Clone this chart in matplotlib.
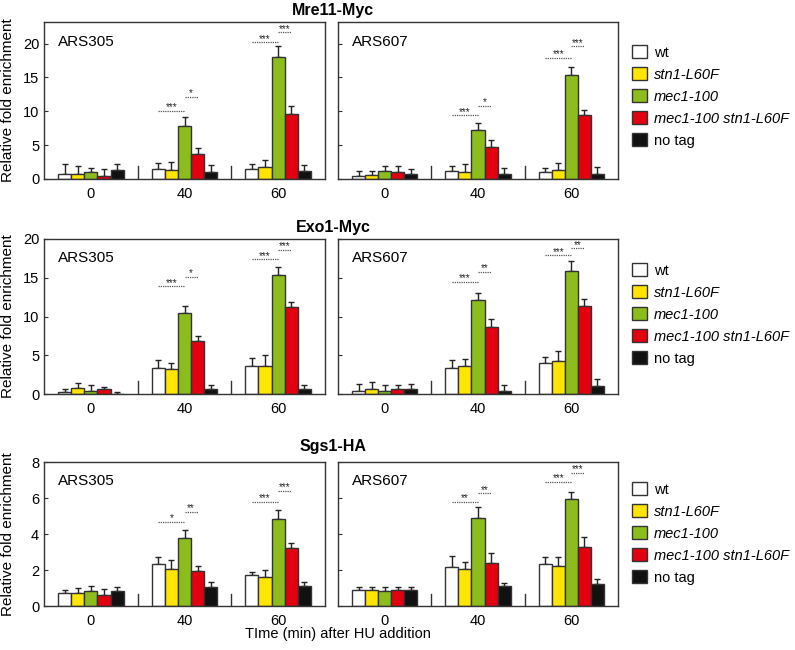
import numpy as np
import matplotlib.pyplot as plt
from matplotlib.patches import Patch

plt.rcParams['font.family'] = ['Liberation Sans', 'DejaVu Sans']

# Time points (min after HU) and strains
times = ['0', '40', '60']
strains = ['wt', 'stn1-L60F', 'mec1-100', 'mec1-100 stn1-L60F', 'no tag']
colors = ['white', '#ffe500', '#8cbd1c', '#e3000f', '#111111']

# Mean values: one row per strain, columns = 0, 40, 60 min
mre11_305 = [[0.7, 1.5, 1.5], [0.7, 1.4, 1.7], [1.1, 7.9, 18.1], [0.5, 3.7, 9.6], [1.3, 1.1, 1.2]]
mre11_305_err = [[1.5, 0.85, 0.7], [1.2, 1.1, 1.1], [0.55, 1.2, 1.6], [1.0, 0.95, 1.2], [0.85, 0.9, 0.8]]
mre11_607 = [[0.5, 1.2, 1.0], [0.6, 1.0, 1.4], [1.2, 7.2, 15.3], [1.0, 4.75, 9.4], [0.75, 0.75, 0.8]]
mre11_607_err = [[0.75, 0.75, 0.65], [0.65, 1.2, 1.0], [0.65, 1.1, 1.2], [0.95, 0.95, 0.8], [0.7, 0.9, 0.9]]

exo1_305 = [[0.3, 3.4, 3.55], [0.8, 3.2, 3.6], [0.45, 10.4, 15.3], [0.65, 6.9, 11.25], [0.05, 0.7, 0.7]]
exo1_305_err = [[0.3, 1.0, 1.15], [0.6, 0.85, 1.4], [0.7, 1.0, 1.15], [0.3, 0.6, 0.6], [0.25, 0.5, 0.5]]
exo1_607 = [[0.45, 3.4, 4.0], [0.7, 3.6, 4.3], [0.45, 12.1, 15.9], [0.6, 8.6, 11.3], [0.65, 0.4, 1.0]]
exo1_607_err = [[0.8, 0.95, 0.8], [0.8, 0.9, 1.25], [0.65, 0.95, 1.3], [0.6, 1.1, 1.0], [0.6, 0.8, 0.95]]

sgs1_305 = [[0.74, 2.32, 1.73], [0.74, 2.05, 1.59], [0.83, 3.76, 4.82], [0.63, 1.94, 3.25], [0.83, 1.05, 1.13]]
sgs1_305_err = [[0.17, 0.39, 0.15], [0.26, 0.48, 0.41], [0.28, 0.46, 0.5], [0.33, 0.3, 0.24], [0.22, 0.26, 0.2]]
sgs1_607 = [[0.88, 2.19, 2.32], [0.88, 2.04, 2.23], [0.85, 4.88, 5.97], [0.87, 2.39, 3.3], [0.88, 1.12, 1.22]]
sgs1_607_err = [[0.15, 0.57, 0.42], [0.2, 0.39, 0.48], [0.2, 0.6, 0.39], [0.18, 0.53, 0.55], [0.15, 0.17, 0.26]]

# Significance marks: (time index, strain a, strain b, height, label)
mre11_305_sig = [(1, 0, 2, 10.1, '***'), (1, 2, 3, 12.1, '*'), (2, 0, 2, 20.2, '***'), (2, 2, 3, 21.7, '***')]
mre11_607_sig = [(1, 0, 2, 9.4, '***'), (1, 2, 3, 10.8, '*'), (2, 0, 2, 17.9, '***'), (2, 2, 3, 19.6, '***')]
exo1_305_sig = [(1, 0, 2, 13.9, '***'), (1, 2, 3, 15.1, '*'), (2, 0, 2, 17.4, '***'), (2, 2, 3, 18.6, '***')]
exo1_607_sig = [(1, 0, 2, 14.5, '***'), (1, 2, 3, 15.8, '**'), (2, 0, 2, 17.9, '***'), (2, 2, 3, 18.8, '**')]
sgs1_305_sig = [(1, 0, 2, 4.67, '*'), (1, 2, 3, 5.22, '**'), (2, 0, 2, 5.79, '***'), (2, 2, 3, 6.4, '***')]
sgs1_607_sig = [(1, 0, 2, 5.78, '**'), (1, 2, 3, 6.26, '**'), (2, 0, 2, 6.89, '***'), (2, 2, 3, 7.39, '***')]

rows = [
    ('Mre11-Myc', 23.2, [0, 5, 10, 15, 20],
     [('ARS305', mre11_305, mre11_305_err, mre11_305_sig), ('ARS607', mre11_607, mre11_607_err, mre11_607_sig)]),
    ('Exo1-Myc', 20, [0, 5, 10, 15, 20],
     [('ARS305', exo1_305, exo1_305_err, exo1_305_sig), ('ARS607', exo1_607, exo1_607_err, exo1_607_sig)]),
    ('Sgs1-HA', 8, [0, 2, 4, 6, 8],
     [('ARS305', sgs1_305, sgs1_305_err, sgs1_305_sig), ('ARS607', sgs1_607, sgs1_607_err, sgs1_607_sig)]),
]

W, H = 795, 650
fig = plt.figure(figsize=(W / 100, H / 100), dpi=100)

col_px = [(44, 325), (338, 618)]
row_px = [(22, 179), (239, 394), (462, 606)]
legend_top = [45, 263, 482]
title_y = [10, 228, 447]

bw = 0.14
edge = '#333333'


def draw_panel(ax, site, means, errs, sig, ymax, yticks):
    x = np.arange(len(times))
    for k in range(len(strains)):
        pos = x + (k - 2) * bw
        ax.errorbar(pos, means[k], yerr=[np.zeros(len(times)), errs[k]], fmt='none',
                    ecolor='#222222', elinewidth=1, capsize=2.5, capthick=1, zorder=1)
        ax.bar(pos, means[k], bw, color=colors[k], edgecolor=edge, linewidth=1, zorder=2)

    # significance lines with stars
    for g, a, b, yy, lab in sig:
        xa = g + (a - 2) * bw
        xb = g + (b - 2) * bw
        ax.plot([xa, xb], [yy, yy], ls=(0, (1, 0.8)), color='#555555', lw=0.9, zorder=3)
        ax.annotate(lab, ((xa + xb) / 2, yy), xytext=(0, 0.4), textcoords='offset points',
                    ha='center', va='baseline', fontsize=7, color='#222222')

    # small separators between time groups
    for s in [0.5, 1.5]:
        ax.axvline(s, ymin=0, ymax=0.085, color=edge, lw=1)

    ax.set_xlim(-0.5, 2.5)
    ax.set_ylim(0, ymax)
    ax.set_xticks(x)
    ax.set_xticklabels(times, fontsize=10.5)
    ax.set_yticks(yticks)
    ax.tick_params(axis='x', length=0, pad=6)
    ax.tick_params(axis='y', direction='in', length=3, labelsize=10.5, color=edge)
    for sp in ax.spines.values():
        sp.set_color(edge)
        sp.set_linewidth(1)
    ax.text(0.05, 0.92, site, transform=ax.transAxes, ha='left', va='top', fontsize=11)


for r, (title, ymax, yticks, panels) in enumerate(rows):
    top, bot = row_px[r]
    for c, (site, means, errs, sig) in enumerate(panels):
        left, right = col_px[c]
        ax = fig.add_axes([left / W, 1 - bot / H, (right - left) / W, (bot - top) / H])
        draw_panel(ax, site, means, errs, sig, ymax, yticks)
        if c == 0:
            ax.set_ylabel('Relative fold enrichment', fontsize=11)
            ax.yaxis.set_label_coords(-0.103, 0.5)
        else:
            ax.set_yticklabels([])
    fig.text(333 / W, 1 - title_y[r] / H, title, ha='center', va='center',
             fontsize=11.5, fontweight='bold')

    handles = [Patch(facecolor=col, edgecolor=edge, linewidth=1) for col in colors]
    leg = fig.legend(handles, strains, loc='upper left', bbox_to_anchor=(632 / W, 1 - legend_top[r] / H),
                     frameon=False, fontsize=10.5, handlelength=1.0, handleheight=1.0,
                     handletextpad=0.5, labelspacing=0.52, borderpad=0, borderaxespad=0)
    for t, s in zip(leg.get_texts(), strains):
        if s not in ('wt', 'no tag'):
            t.set_fontstyle('italic')

fig.text(338 / W, 1 - 634 / H, 'TIme (min) after HU addition', ha='center', va='center', fontsize=10.5)

fig.savefig('out.png', dpi=100)
